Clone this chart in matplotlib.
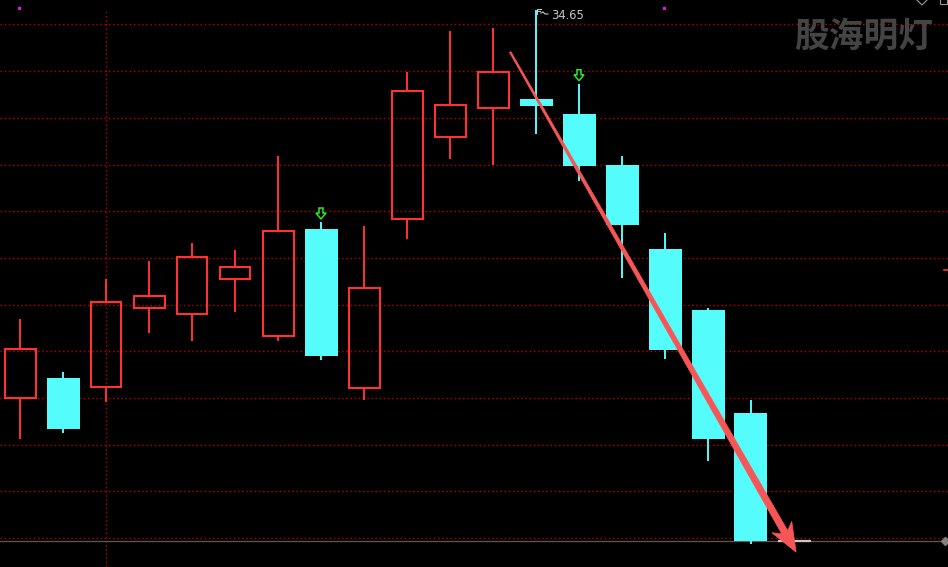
import matplotlib
matplotlib.use('Agg')
import matplotlib.pyplot as plt
from matplotlib.patches import Rectangle, Polygon
import numpy as np

# ---------------- data ----------------
opens  = [26.34, 26.77, 26.58, 28.27, 28.14, 28.89, 27.68, 29.96, 26.56,
          30.17, 31.93, 32.55, 32.74, 32.42, 31.33, 29.53, 28.23, 26.02]
closes = [27.40, 25.68, 28.40, 28.52, 29.37, 29.15, 29.92, 27.25, 28.70,
          32.92, 32.62, 33.32, 32.60, 31.32, 30.05, 27.37, 25.47, 23.28]
highs  = [28.03, 26.90, 28.90, 29.28, 29.66, 29.51, 31.52, 30.11, 30.02,
          33.32, 34.20, 34.26, 34.65, 33.07, 31.52, 29.87, 28.27, 26.30]
lows   = [25.47, 25.60, 26.26, 27.74, 27.57, 28.18, 27.57, 27.16, 26.30,
          29.75, 31.47, 31.34, 32.00, 30.99, 28.92, 27.18, 24.99, 23.22]

peak_day = 12
peak_label = "34.65"
signal_days = [7, 13]          # green down-arrow signals
marker_days = [0, 15]          # small magenta marks at the top
vline_day = 2
grid_levels = [34.34, 33.34, 32.34, 31.34, 30.34, 29.34, 28.34,
               27.34, 26.34, 25.34, 24.34, 23.34]
base_level = 23.27
right_mark_level = 29.08
trend_start = (11.4, 33.75)
trend_end = (18.05, 23.04)
watermark = "股海明灯"

# ---------------- styling ----------------
W, H = 948, 567
RED = '#ff3232'
CYAN = '#54fcfc'
GRID = '#b00000'
ARROW = '#f85656'
GREEN = '#22ee22'

fig = plt.figure(figsize=(W / 100, H / 100), dpi=100, facecolor='black')
ax = fig.add_axes([0, 0, 1, 1])
ax.set_facecolor('black')
ax.set_xlim(-20 / 43, 928 / 43)
ax.set_ylim(22.723, 34.864)
ax.axis('off')

# grid
dots = (0, (1.1, 1.9))
for lv in grid_levels:
    ax.axhline(lv, color=GRID, lw=1.0, ls=dots, zorder=1)
ax.axvline(vline_day, ymax=1 - 10 / H, color=GRID, lw=1.0, ls=dots, zorder=1)

# base line
ax.axhline(base_level, color='#5a5a5a', lw=0.9, zorder=1)
ax.plot([(778 - 20) / 43, (811 - 20) / 43], [base_level, base_level],
        color='#c8c8c8', lw=1.6, zorder=2, solid_capstyle='butt')
ax.plot([(945 - 20) / 43], [base_level], marker='D', ms=4, color='#808080',
        clip_on=False, zorder=2)
ax.axhline(right_mark_level, xmin=944 / W, xmax=1, color=RED, lw=1.2)

# candles
for i, (o, c, h, l) in enumerate(zip(opens, closes, highs, lows)):
    if c >= o:
        bw = 31 / 43
        ax.add_patch(Rectangle((i - bw / 2, o), bw, c - o, fill=False,
                               edgecolor=RED, lw=1.5, zorder=3))
        ax.plot([i, i], [c, h], color=RED, lw=1.4, zorder=3, solid_capstyle='butt')
        ax.plot([i, i], [l, o], color=RED, lw=1.4, zorder=3, solid_capstyle='butt')
    else:
        bw = 33 / 43
        ax.plot([i, i], [l, h], color=CYAN, lw=1.4, zorder=3, solid_capstyle='butt')
        ax.add_patch(Rectangle((i - bw / 2, c), bw, o - c, facecolor=CYAN,
                               edgecolor='none', zorder=3))

# overlay axes in pixel units for annotations
ov = fig.add_axes([0, 0, 1, 1], facecolor='none')
ov.set_xlim(0, W)
ov.set_ylim(H, 0)
ov.axis('off')


def px(x, y):
    d = ax.transData.transform((x, y))
    return d[0], H - d[1]


# green signal arrows (outlined)
for d in signal_days:
    cx, cy = px(d, highs[d])
    top, bot = cy - 14, cy - 3
    hw, sw = 5, 2
    mid = top + 5
    pts = [(cx - sw, top), (cx - sw, mid), (cx - hw, mid), (cx, bot),
           (cx + hw, mid), (cx + sw, mid), (cx + sw, top)]
    ov.add_patch(Polygon(pts, closed=True, fill=False, edgecolor=GREEN, lw=1.1, zorder=5))

# peak label
pxp, pyp = px(peak_day, highs[peak_day])
ov.plot([pxp + 1, pxp + 1, pxp + 5], [pyp + 4, pyp - 1, pyp - 1], color='#c8c8c8', lw=0.8)
ov.plot([pxp + 1, pxp + 4], [pyp + 1.5, pyp + 1.5], color='#c8c8c8', lw=0.8)
ov.plot([pxp + 5, pxp + 7, pxp + 9, pxp + 12], [pyp + 3, pyp + 2, pyp + 4, pyp + 4],
        color='#c8c8c8', lw=0.8)
ov.text(pxp + 15, pyp + 5.5, peak_label, color='#c8c8c8', fontsize=8.3,
        ha='left', va='center', family='DejaVu Sans')

# magenta marks
for d in marker_days:
    mx, _ = px(d, 0)
    ov.add_patch(Rectangle((mx - 1.5, 6.5), 3, 3, facecolor='#ff00ff', edgecolor='none'))

# big trend arrow (tapered)
sx, sy = px(*trend_start)
ex, ey = px(*trend_end)
v = np.array([ex - sx, ey - sy])
L = np.hypot(*v)
u = v / L
n = np.array([-u[1], u[0]])
s = np.array([sx, sy])
e = np.array([ex, ey])
head_len, head_hw = 29.0, 11.5
join = e - u * 23.0
corner = e - u * head_len
poly = [s + n * 0.8, join + n * 3.4, corner + n * head_hw, e,
        corner - n * head_hw, join - n * 3.4, s - n * 0.8]
ov.add_patch(Polygon(poly, closed=True, facecolor=ARROW, edgecolor=ARROW,
                     lw=0.5, zorder=6))

# watermark
ov.text(864, 36, watermark, color='#444444', fontsize=25, fontweight='bold',
        family=['Noto Sans CJK SC', 'DejaVu Sans'], ha='center', va='center')

# top-right icons
ov.plot([917, 922, 927], [0, 5, 0], color='#9a9a9a', lw=0.8)
ov.add_patch(Rectangle((940, -2), 7, 6, fill=False, edgecolor='#9a9a9a', lw=0.8))

fig.savefig('out.png', dpi=100, facecolor='black')
